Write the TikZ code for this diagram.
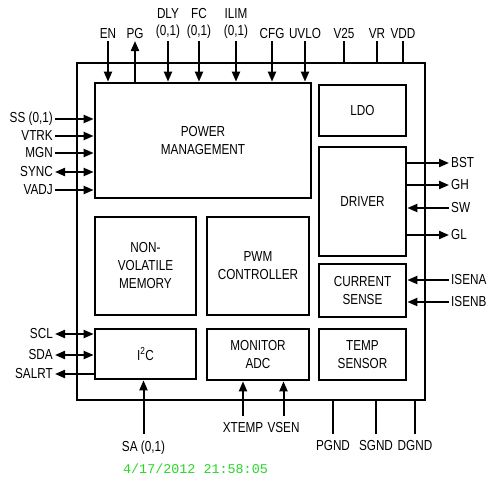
\documentclass[tikz,border=0pt]{standalone}
\usepackage{fontspec}
\setmainfont{Liberation Sans}[FakeStretch=0.81]
\newfontfamily\stampfont{Liberation Mono}
\usetikzlibrary{arrows.meta}
\definecolor{stampgreen}{RGB}{40,215,40}

\begin{document}
\begin{tikzpicture}
    [x=1pt,y=-1pt,
     block/.style={draw, line width=2.7pt, inner sep=0pt, align=center,
       font=\fontsize{14.5}{18}\selectfont},
     pin/.style={line width=2pt},
     pinlbl/.style={inner sep=2pt, align=center,
       font=\fontsize{14.5}{17.5}\selectfont},
     botlbl/.style={pinlbl, inner ysep=7pt},
     >={Triangle[length=10pt,width=8pt]}]
    \useasboundingbox (0,0) rectangle (500,490);

    % chip outline
    \node[draw, line width=2pt, minimum width=348pt, minimum height=337pt] (chip) at (251,231.5) {};

    % blocks
    \node[block, minimum width=216pt, minimum height=115pt] (pm) at (203,140.5) {POWER\\MANAGEMENT};
    \node[block, minimum width=87pt, minimum height=51pt] (ldo) at (362.5,110.5) {LDO};
    \node[block, minimum width=87pt, minimum height=109pt] (drv) at (362.5,201.5) {DRIVER};
    \node[block, minimum width=87pt, minimum height=53pt] (isense) at (362.5,290.5) {CURRENT\\SENSE};
    \node[block, minimum width=87pt, minimum height=51pt] (tsense) at (362.5,354.5) {TEMP\\SENSOR};
    \node[block, minimum width=101pt, minimum height=98pt] (nvm) at (145.5,266) {NON-\\VOLATILE\\MEMORY};
    \node[block, minimum width=102pt, minimum height=98pt] (pwm) at (258,266) {PWM\\CONTROLLER};
    \node[block, minimum width=101pt, minimum height=50pt] (i2c) at (145.5,354) {I\textsuperscript{2}C};
    \node[block, minimum width=102pt, minimum height=51pt] (madc) at (258,354.5) {MONITOR\\ADC};

    % top pins
    \foreach \n/\x/\t in {en/108/EN, pg/135/PG, dly/168/{DLY\\(0,1)}, fc/199/{FC\\(0,1)},
                         ilim/236/{ILIM\\(0,1)}, cfg/272/CFG, uvlo/305/UVLO,
                         vtwo/344/V25, vr/377/VR, vdd/403/VDD}
      \node[pinlbl, anchor=south] (\n) at (\x,41) {\t};
    \foreach \n in {en,dly,fc,ilim,cfg,uvlo}
      \draw[pin,->] (\n) -- (\n |- pm.north);
    \draw[pin,->] (pm.north -| pg) -- (pg);
    \foreach \n in {vtwo,vr,vdd}
      \draw[pin] (\n) -- (\n |- chip.north);

    % left pins
    \foreach \n/\y/\t in {ss/119/{SS (0,1)}, vtrk/136/VTRK, mgn/153/MGN, sync/172/SYNC,
                         vadj/190/VADJ, scl/334/SCL, sda/355/SDA, salrt/374/SALRT}
      \node[pinlbl, anchor=east] (\n) at (55,\y) {\t};
    \foreach \n in {ss,vtrk,mgn,vadj}
      \draw[pin,->] (\n) -- (\n -| pm.west);
    \draw[pin,<->] (sync) -- (sync -| pm.west);
    \draw[pin,<->] (scl) -- (scl -| i2c.west);
    \draw[pin,<->] (sda) -- (sda -| i2c.west);
    \draw[pin,->] (salrt -| i2c.west) -- (salrt);

    % right pins
    \foreach \n/\y/\t in {bst/163/BST, gh/185/GH, sw/208/SW, gl/235/GL,
                         isena/280/ISENA, isenb/302/ISENB}
      \node[pinlbl, anchor=west] (\n) at (449,\y) {\t};
    \foreach \n in {bst,gh,gl}
      \draw[pin,->] (\n -| drv.east) -- (\n);
    \draw[pin,->] (sw) -- (sw -| drv.east);
    \draw[pin,->] (isena) -- (isena -| isense.east);
    \draw[pin,->] (isenb) -- (isenb -| isense.east);

    % bottom pins
    \node[botlbl] (sa) at (143.5,448) {SA (0,1)};
    \node[botlbl] (xtemp) at (243,428) {XTEMP};
    \node[botlbl] (vsen) at (283.5,428) {VSEN};
    \draw[pin,->] (sa) -- (sa |- i2c.south);
    \draw[pin,->] (xtemp) -- (xtemp |- madc.south);
    \draw[pin,->] (vsen) -- (vsen |- madc.south);
    \foreach \n/\x/\t in {pgnd/333/PGND, sgnd/376/SGND, dgnd/415/DGND}
    {
      \node[botlbl] (\n) at (\x,446) {\t};
      \draw[pin] (\n) -- (\n |- chip.south);
    }

    \node[font=\stampfont\fontsize{13.4}{16}\selectfont, text=stampgreen] (stamp) at (195.5,469) {4/17/2012 21:58:05};
\end{tikzpicture}
\end{document}
